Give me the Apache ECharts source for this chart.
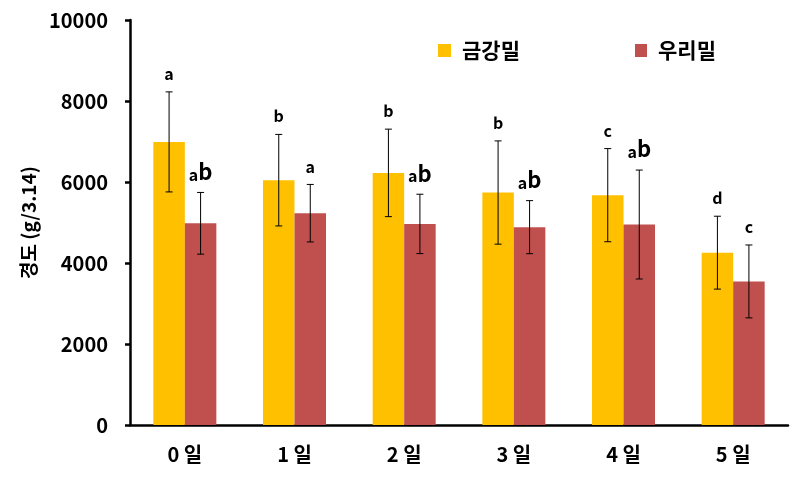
<!DOCTYPE html>
<html><head><meta charset="utf-8">
<script src="https://cdn.jsdelivr.net/npm/echarts@6/dist/echarts.min.js"></script>
<style>html,body{margin:0;padding:0;background:#fff}#c{width:804px;height:502px}</style>
</head><body><div id="c"></div>
<script>
const categories = ['0 일','1 일','2 일','3 일','4 일','5 일'];
const seriesNames = ['금강밀','우리밀'];
const kangValues = [6990, 6045, 6225, 5740, 5675, 4255];
const kangSD = [1235, 1130, 1080, 1275, 1150, 900];
const kangLetters = ['a','b','b','b','c','d'];
const wooriValues = [4980, 5230, 4965, 4885, 4950, 3545];
const wooriSD = [762, 710, 733, 655, 1345, 900];
const wooriLetters = ['ab','a','ab','ab','ab','c'];
const yTicks = {min:0, max:10000, interval:2000};

const FONT = '"Noto Sans CJK KR", "Noto Sans", sans-serif';
const BAR_W = 31.5;

function letterText(s){
  if (s === 'ab') return '{s|a}{b|b}';
  return '{s|' + s + '}';
}

function errSeries(sign, values, sds, letters){
  return {
    type:'custom', z:10, silent:true,
    data: values.map((v,i)=>[i, v, sds[i]]),
    encode:{x:0, y:1},
    renderItem:function(params, api){
      const i = api.value(0), v = api.value(1), sd = api.value(2);
      const c = api.coord([i, v]);
      const x = c[0] + sign*BAR_W/2;
      const top = api.coord([i, v+sd])[1];
      const bot = api.coord([i, v-sd])[1];
      const cap = 3.5;
      const st = {stroke:'#000', lineWidth:1};
      return {type:'group', children:[
        {type:'line', shape:{x1:x, y1:top, x2:x, y2:bot}, style:st},
        {type:'line', shape:{x1:x-cap, y1:top, x2:x+cap, y2:top}, style:st},
        {type:'line', shape:{x1:x-cap, y1:bot, x2:x+cap, y2:bot}, style:st},
        {type:'text', style:{
          x:x, y:top-10, text:letterText(letters[params.dataIndex]),
          align:'center', verticalAlign:'bottom',
          fill:'#000',
          rich:{
            s:{fontFamily:FONT, fontWeight:'bold', fontSize:16, fill:'#000', verticalAlign:'bottom', lineHeight:22},
            b:{fontFamily:FONT, fontWeight:'bold', fontSize:22, fill:'#000', verticalAlign:'bottom', lineHeight:22}
          }
        }}
      ]};
    }
  };
}

const chart = echarts.init(document.getElementById('c'), null, {renderer:'canvas'});
chart.setOption({
  animation:false,
  backgroundColor:'#fff',
  grid:{left:130, right:16, top:20, bottom:77, containLabel:false},
  legend:[
    {left:433, top:35, itemWidth:13, itemHeight:13, icon:'rect', itemGap:0, data:[seriesNames[0]],
     textStyle:{fontFamily:FONT, fontWeight:'bold', fontSize:21, color:'#000', padding:[0,0,0,6]}},
    {left:630, top:35, itemWidth:12, itemHeight:13, icon:'rect', itemGap:0, data:[seriesNames[1]],
     textStyle:{fontFamily:FONT, fontWeight:'bold', fontSize:21, color:'#000', padding:[0,0,0,6]}}
  ],
  xAxis:{
    type:'category', data:categories,
    axisLine:{lineStyle:{color:'#000', width:2.5}},
    axisTick:{alignWithLabel:true, length:5, lineStyle:{color:'#000', width:2.5}},
    axisLabel:{fontFamily:FONT, fontWeight:'bold', fontSize:20, color:'#000', margin:19}
  },
  yAxis:{
    type:'value', min:yTicks.min, max:yTicks.max, interval:yTicks.interval,
    name:'경도 (g/3.14)', nameLocation:'middle', nameGap:92, nameRotate:90,
    nameTextStyle:{fontFamily:FONT, fontWeight:'bold', fontSize:19, color:'#000'},
    splitLine:{show:false},
    axisLine:{show:true, lineStyle:{color:'#000', width:2.5}},
    axisTick:{show:true, length:5, lineStyle:{color:'#000', width:2.5}},
    axisLabel:{fontFamily:FONT, fontWeight:'bold', fontSize:20, color:'#000', margin:22,
      formatter:function(v){ return String(v); }}
  },
  series:[
    {name:seriesNames[0], type:'bar', data:kangValues, barWidth:BAR_W, barGap:'0%', itemStyle:{color:'#FFC000'}},
    {name:seriesNames[1], type:'bar', data:wooriValues, barWidth:BAR_W, barGap:'0%', itemStyle:{color:'#C0504D'}},
    errSeries(-1, kangValues, kangSD, kangLetters),
    errSeries(1, wooriValues, wooriSD, wooriLetters)
  ]
});
</script></body></html>
